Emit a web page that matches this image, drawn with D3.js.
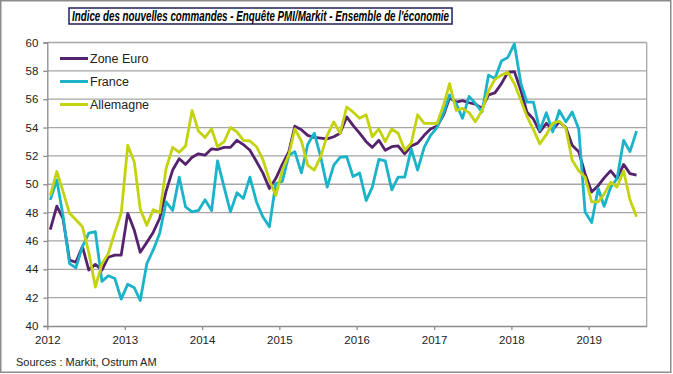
<!DOCTYPE html>
<html><head><meta charset="utf-8">
<script src="https://cdn.jsdelivr.net/npm/d3@7"></script>
<style>
html,body{margin:0;padding:0;background:#fff;}
svg{display:block;font-family:"Liberation Sans",Arial,sans-serif;}
</style></head>
<body><svg id="c" width="673" height="374"></svg>
<script>
const title = "Indice des nouvelles commandes - Enquête PMI/Markit - Ensemble de l'économie";
const source = "Sources : Markit, Ostrum AM";
const firstMonth = "2012-01", lastMonth = "2019-08";
const yearTicks = [2012, 2013, 2014, 2015, 2016, 2017, 2018, 2019];
const yTicks = [40, 42, 44, 46, 48, 50, 52, 54, 56, 58, 60];
const seriesNames = ["Zone Euro", "France", "Allemagne"];
const seriesColors = ["#56226E", "#1AB3C9", "#C3D30F"];

const zoneEuro = [46.8,48.45,47.6,44.65,44.5,45.6,43.95,44.35,43.95,44.85,45.0,45.0,
  47.95,46.75,45.2,45.9,46.6,47.6,49.5,51.0,51.8,51.4,51.9,52.15,
  52.05,52.5,52.45,52.6,52.6,53.1,52.8,52.4,51.6,50.8,49.7,50.4,
  51.4,52.3,54.1,53.85,53.45,53.3,53.25,53.2,53.35,53.6,54.75,54.15,
  53.6,53.0,52.6,53.1,52.4,52.65,52.7,52.15,52.7,52.9,53.45,53.9,
  54.1,54.9,56.1,55.8,55.9,55.75,55.65,55.35,56.3,56.45,57.1,57.9,
  57.95,56.6,55.1,54.6,53.7,54.3,53.85,54.4,54.0,52.75,52.3,50.75,
  49.45,49.9,50.45,50.95,50.4,51.4,50.75,50.65];
const france = [48.9,50.3,47.8,44.4,44.1,45.6,46.55,46.65,43.15,43.55,43.35,41.9,
  42.95,42.7,41.8,44.4,45.35,46.55,48.75,48.15,50.5,48.4,48.05,48.15,
  48.9,48.15,51.65,49.8,48.05,49.4,49.0,50.5,48.75,47.7,47.0,50.05,
  50.2,52.05,52.3,50.8,52.8,53.6,51.95,49.8,51.35,51.9,51.95,50.55,
  50.8,48.85,49.8,51.75,51.65,49.6,50.5,50.5,52.5,51.0,52.6,53.45,
  54.0,55.05,56.3,55.7,54.65,56.2,55.7,55.1,57.7,57.45,58.7,58.95,
  59.9,57.1,55.8,55.8,53.8,55.05,53.7,55.2,54.4,55.1,53.9,48.05,
  47.3,49.7,48.45,49.8,50.4,53.1,52.3,53.75];
const allemagne = [49.2,50.9,49.5,47.95,47.5,47.0,45.2,42.75,44.4,45.1,46.6,47.95,
  52.75,51.55,48.25,47.1,48.2,48.0,51.1,52.6,52.25,52.7,55.2,53.75,
  53.3,53.9,52.65,53.0,54.0,53.7,53.1,53.05,52.65,51.75,50.3,49.2,
  51.0,52.1,53.9,53.05,51.35,51.0,51.95,53.45,54.4,53.6,55.45,55.1,
  54.65,54.9,53.35,53.9,53.0,53.9,53.6,52.4,52.9,54.9,54.3,54.3,
  54.3,55.6,57.1,55.2,55.35,55.05,54.4,55.2,56.6,57.4,57.7,57.9,
  57.1,55.9,54.8,53.85,52.85,53.5,54.3,54.45,53.95,51.7,50.95,50.5,
  48.75,48.75,49.3,50.15,49.8,50.95,48.9,47.7];
const seriesValues = [zoneEuro, france, allemagne];

const svg = d3.select("#c");
const parseM = d3.utcParse("%Y-%m");
const months = d3.utcMonth.range(parseM(firstMonth), d3.utcMonth.offset(parseM(lastMonth), 1));
const dates = months.map(m => d3.utcDay.offset(m, 14));

const x = d3.scaleUtc().domain([new Date(Date.UTC(2012,0,1)), new Date(Date.UTC(2019,9,2))]).range([47.3, 646.7]);
const y = d3.scaleLinear().domain([40, 60]).range([326, 42.5]);

// outer frame
svg.append("rect").attr("x",0.75).attr("y",0.75).attr("width",670).attr("height",371.5)
  .attr("fill","#fff").attr("stroke","#8c8c8c").attr("stroke-width",1.5);

// gridlines
svg.append("g").selectAll("line").data(yTicks.filter(v => v > 40)).join("line")
  .attr("x1", x.range()[0]).attr("x2", x.range()[1])
  .attr("y1", d => y(d)).attr("y2", d => y(d))
  .attr("stroke", "#a6a6a6").attr("stroke-width", 1.3);
// plot border right
svg.append("line").attr("x1", x.range()[1]).attr("x2", x.range()[1]).attr("y1", y(60)).attr("y2", y(40))
  .attr("stroke", "#a6a6a6").attr("stroke-width", 1.3);

// y axis
const yAxis = d3.axisLeft(y).tickValues(yTicks).tickSize(4).tickPadding(5).tickFormat(d3.format("d"));
const gy = svg.append("g").attr("transform", `translate(${x.range()[0]},0)`).call(yAxis);
gy.select(".domain").attr("stroke", "#8c8c8c").attr("stroke-width", 1.3);
gy.selectAll(".tick line").attr("stroke", "#8c8c8c").attr("stroke-width", 1.3);
gy.selectAll(".tick text").attr("font-size", 11.5).attr("fill", "#222").attr("font-family", "Liberation Sans, Arial, sans-serif");

// x axis
const xAxis = d3.axisBottom(x).tickValues(yearTicks.map(yv => new Date(Date.UTC(yv,0,1))))
  .tickSize(4).tickPadding(6).tickFormat(d3.utcFormat("%Y")).tickSizeOuter(0);
const gx = svg.append("g").attr("transform", `translate(0,${y(40)})`).call(xAxis);
gx.select(".domain").attr("stroke", "#8c8c8c").attr("stroke-width", 1.3);
gx.selectAll(".tick line").attr("stroke", "#8c8c8c").attr("stroke-width", 1.3);
gx.selectAll(".tick text").attr("font-size", 11.5).attr("fill", "#222").attr("font-family", "Liberation Sans, Arial, sans-serif");

// lines
const line = d3.line().x((d, i) => x(dates[i])).y(d => y(d));
svg.append("g").selectAll("path").data(seriesValues).join("path")
  .attr("d", d => line(d)).attr("fill", "none")
  .attr("stroke", (d, i) => seriesColors[i]).attr("stroke-width", 2.8)
  .attr("stroke-linejoin", "round");

// legend
const lg = svg.append("g");
seriesNames.forEach((n, i) => {
  const yy = 58.5 + i * 23;
  lg.append("line").attr("x1", 60).attr("x2", 88).attr("y1", yy).attr("y2", yy)
    .attr("stroke", seriesColors[i]).attr("stroke-width", 3);
  lg.append("text").attr("x", 90).attr("y", yy + 4.3).attr("font-size", 12.5).attr("fill", "#222").text(n);
});

// title
svg.append("rect").attr("x", 69).attr("y", 8).attr("width", 383).attr("height", 16)
  .attr("fill", "#fff").attr("stroke", "#1f1f5c").attr("stroke-width", 1.5);
svg.append("text").attr("x", 260.5).attr("y", 21).attr("text-anchor", "middle")
  .attr("font-size", 14).attr("font-weight", "bold").attr("font-style", "italic").attr("fill", "#000")
  .attr("textLength", 377).attr("lengthAdjust", "spacingAndGlyphs").text(title);

// source
svg.append("text").attr("x", 16).attr("y", 366).attr("font-size", 11).attr("fill", "#222").text(source);
</script></body></html>
